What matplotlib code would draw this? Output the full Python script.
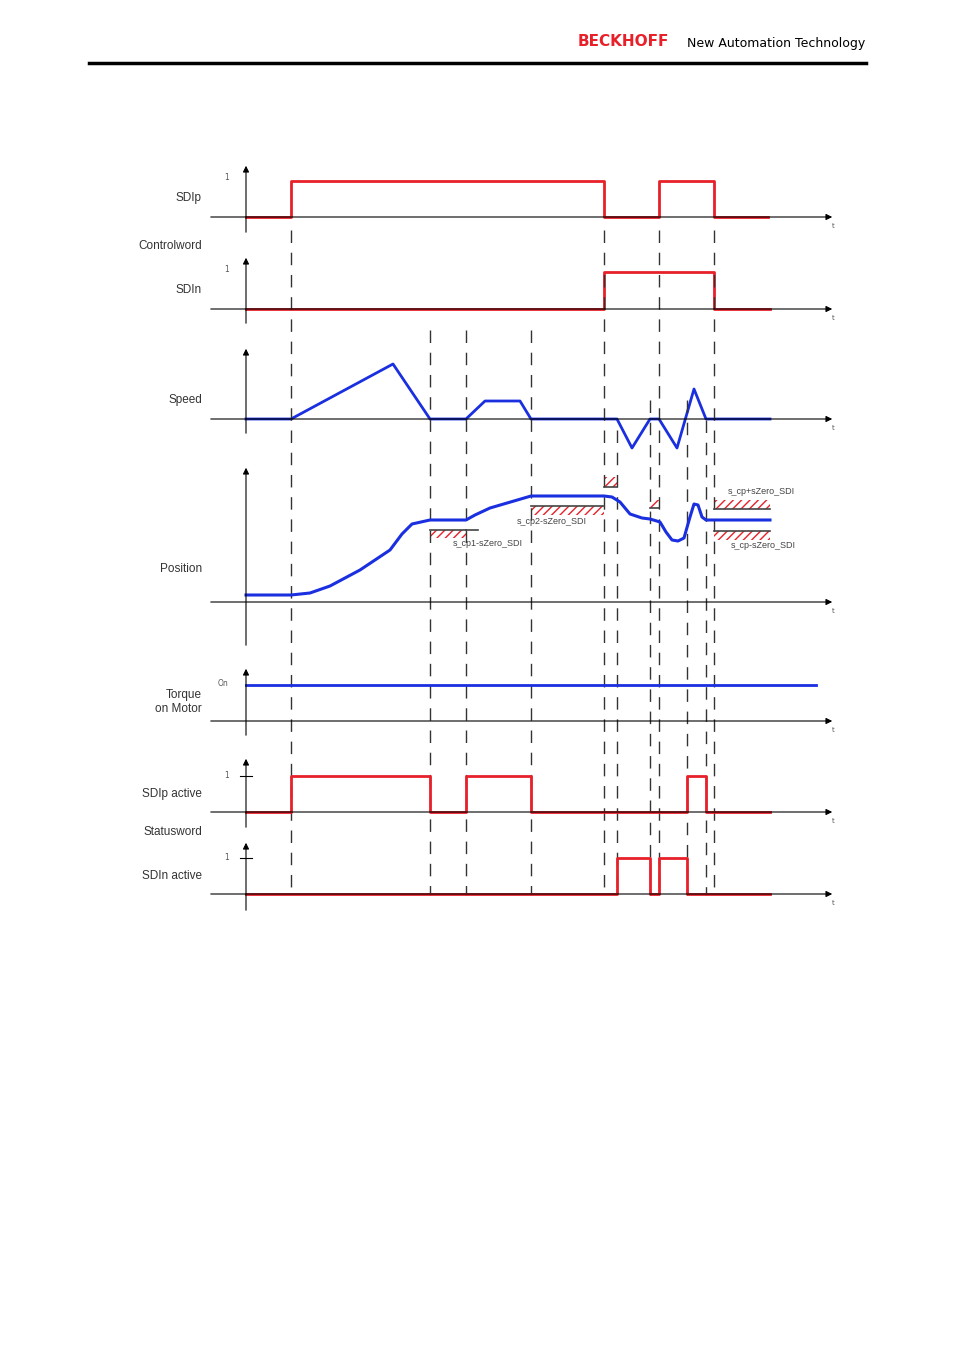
import matplotlib
matplotlib.use("Agg")
import matplotlib.pyplot as plt
import numpy as np

# ---- data (time in diagram units, signal levels) ----
sdip_t = [246, 291, 291, 604, 604, 659, 659, 714, 714, 768]
sdip_v = [0, 0, 1, 1, 0, 0, 1, 1, 0, 0]
sdin_t = [246, 604, 604, 714, 714, 770]
sdin_v = [0, 0, 1, 1, 0, 0]
speed_t = [246, 291, 393, 430, 466, 485, 520, 531, 617, 632, 650, 659, 677, 694, 706, 770]
speed_v = [0, 0, 55, 0, 0, 18, 18, 0, 0, -29, 0, 0, -29, 30, 0, 0]
pos_t = [246, 291, 310, 330, 360, 390, 402, 412, 430, 466, 475, 490, 531, 604, 612, 620, 630, 642, 650, 660, 666, 672, 678, 684, 690, 694, 698, 702, 706, 714, 770]
pos_v = [7, 7, 9, 16, 32, 52, 68, 78, 82, 82, 87, 94, 106, 106, 105, 100, 88, 84, 83, 80, 70, 62, 61, 64, 85, 98, 97, 85, 82, 82, 82]
sdipa_t = [246, 291, 291, 430, 430, 466, 466, 531, 531, 687, 687, 706, 706, 770]
sdipa_v = [0, 0, 1, 1, 0, 0, 1, 1, 0, 0, 1, 1, 0, 0]
sdina_t = [246, 617, 617, 650, 650, 659, 659, 687, 687, 770]
sdina_v = [0, 0, 1, 1, 0, 0, 1, 1, 0, 0]
event_t = [291, 430, 466, 531, 604, 617, 650, 659, 687, 706, 714]
event_top = [230, 330, 330, 330, 230, 430, 400, 230, 400, 420, 230]

RED = "#e8202a"
BLUE = "#1a2fe0"
GREY = "#555555"

fig = plt.figure(figsize=(9.54, 13.51), dpi=100)
ax = fig.add_axes([0, 0, 1, 1])
ax.set_xlim(0, 954)
ax.set_ylim(1351, 0)
ax.axis("off")

# header
ax.text(669, 42, "BECKHOFF", color=RED, fontsize=11, fontweight="bold",
        va="center", ha="right", family="DejaVu Sans")
ax.text(865, 43, "New Automation Technology", color="black", fontsize=9,
        va="center", ha="right", family="DejaVu Sans")
ax.plot([89, 866], [63, 63], color="black", lw=2.5)

def panel(base, top, bottom, label, lab_y=None):
    ax.annotate("", xy=(835, base), xytext=(208, base),
                arrowprops=dict(arrowstyle="-|>", color="black", lw=0.8, mutation_scale=9))
    ax.annotate("", xy=(246, top), xytext=(246, bottom),
                arrowprops=dict(arrowstyle="-|>", color="black", lw=0.8, mutation_scale=9))
    ax.text(833, base + 9, "t", fontsize=5, color=GREY, ha="center", va="center")
    if label:
        ax.text(202, lab_y, label, fontsize=8.5, color="#333333", ha="right", va="center",
                family="Liberation Sans", linespacing=1.3)

# SDIp
panel(217, 163, 235, "SDIp", lab_y=198)
ax.text(227, 180, "1", fontsize=5.5, color=GREY, ha="center")
ax.plot(sdip_t, [217 - 36 * v for v in sdip_v], color=RED, lw=2)
ax.text(202, 246, "Controlword", fontsize=8.5, color="#333333", ha="right", va="center", family="Liberation Sans")
# SDIn
panel(309, 255, 326, "SDIn", lab_y=290)
ax.text(227, 272, "1", fontsize=5.5, color=GREY, ha="center")
ax.plot(sdin_t, [309 - 37 * v for v in sdin_v], color=RED, lw=2)
# Speed
panel(419, 346, 436, "Speed", lab_y=400)
ax.plot(speed_t, [419 - v for v in speed_v], color=BLUE, lw=2)
# Position
panel(602, 465, 648, "Position", lab_y=569)

# event dashed lines
for t, top in zip(event_t, event_top):
    ax.plot([t, t], [top, 895], color="#333333", lw=1, dashes=(9, 7))

# hatched bands
def band(x0, x1, y0, y1, line_y):
    ax.fill_between([x0, x1], y0, y1, facecolor="none", edgecolor=RED, hatch="////", lw=0)
    ax.plot([x0, x1], [line_y, line_y], color="#444444", lw=1.2)

band(430, 466, 530, 538, 530)
ax.plot([466, 478], [530, 530], color="#444444", lw=1.2)
band(531, 604, 506, 515, 506)
band(604, 617, 477, 487, 487)
band(650, 659, 500, 508, 508)
band(714, 770, 500, 509, 509)
band(714, 770, 531, 540, 531)
ax.plot(pos_t, [602 - v for v in pos_v], color=BLUE, lw=2.2)
ax.text(453, 544, "s_cp1-sZero_SDI", fontsize=6.5, color="#444444", ha="left", va="center", family="Liberation Sans")
ax.text(517, 522, "s_cp2-sZero_SDI", fontsize=6.5, color="#444444", ha="left", va="center", family="Liberation Sans")
ax.text(728, 491, "s_cp+sZero_SDI", fontsize=6.5, color="#444444", ha="left", va="center", family="Liberation Sans")
ax.text(731, 546, "s_cp-sZero_SDI", fontsize=6.5, color="#444444", ha="left", va="center", family="Liberation Sans")

# Torque
panel(721, 666, 738, "Torque\non Motor", lab_y=702)
ax.text(223, 684, "On", fontsize=5.5, color=GREY, ha="center", va="center")
ax.plot([246, 816], [685, 685], color=BLUE, lw=2)

# SDIp active
panel(812, 756, 830, "SDIp active", lab_y=794)
ax.text(227, 775, "1", fontsize=5.5, color=GREY, ha="center", va="center")
ax.plot([240, 252], [776, 776], color="black", lw=0.8)
ax.plot(sdipa_t, [812 - 36 * v for v in sdipa_v], color=RED, lw=2)
ax.text(202, 832, "Statusword", fontsize=8.5, color="#333333", ha="right", va="center", family="Liberation Sans")

# SDIn active
panel(894, 840, 913, "SDIn active", lab_y=876)
ax.text(227, 857, "1", fontsize=5.5, color=GREY, ha="center", va="center")
ax.plot([240, 252], [858, 858], color="black", lw=0.8)
ax.plot(sdina_t, [894 - 36 * v for v in sdina_v], color=RED, lw=2)

fig.savefig("out.png", dpi=100)
